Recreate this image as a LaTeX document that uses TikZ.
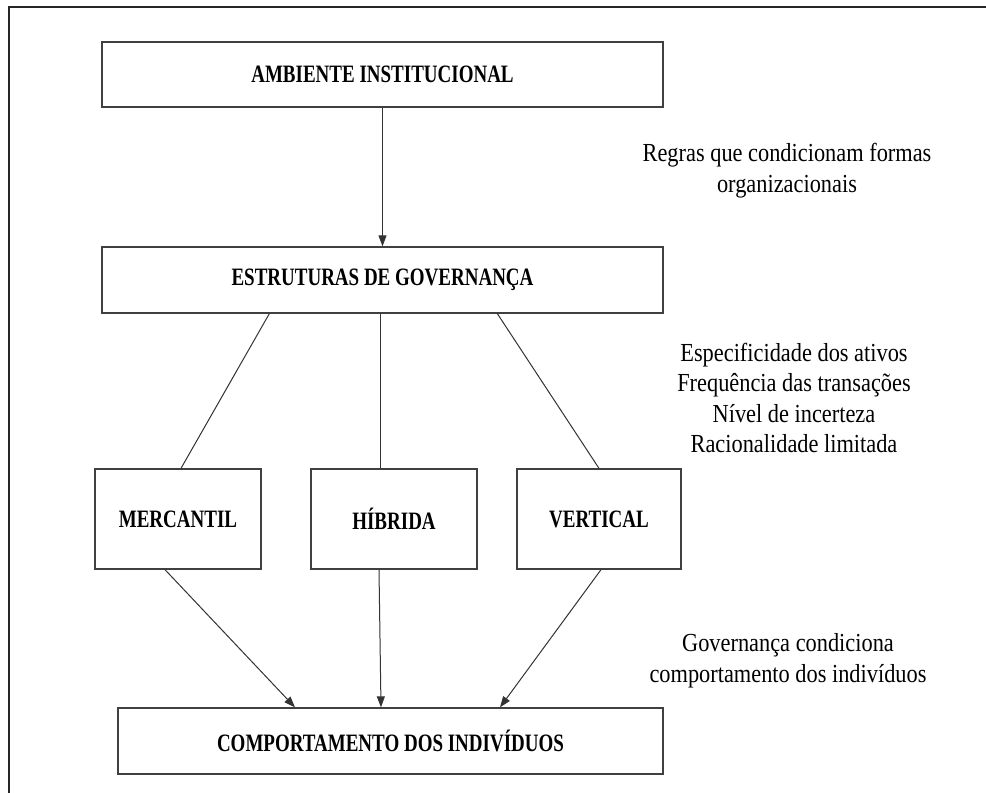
\documentclass[tikz,border=0pt]{standalone}
\usepackage{fontspec}
\usepackage{graphicx}
\setmainfont{Liberation Serif}
\newcommand\cx[2]{\scalebox{#1}[1]{#2}}
\newcommand\bx[1]{\cx{0.76}{#1}}
\newcommand\nt[1]{\cx{0.86}{\begin{tabular}{@{}c@{}}#1\end{tabular}}}
\usetikzlibrary{arrows.meta,calc}
\tikzset{
  box/.style={draw=black!75, line width=1.3pt, rectangle, inner sep=0pt,
    font=\bfseries\fontsize{25}{30}\selectfont, text=black},
  note/.style={inner sep=0pt, text=black,
    font=\fontsize{26}{30.5}\selectfont},
  link/.style={draw=black!80, line width=1pt},
  arr/.style={link, -{Triangle[length=11pt,width=8pt]}}
}
\begin{document}
\begin{tikzpicture}[x=1pt,y=-1pt]
\useasboundingbox (0,0) rectangle (986,793);
\fill[white] (0,0) rectangle (986,793);
% outer frame (partially visible)
\draw[line width=2pt, black!85] (9,793) -- (9,7) -- (986,7);

\node[box, minimum width=561pt, minimum height=65pt] (amb) at (382.5,74.5) {\bx{AMBIENTE INSTITUCIONAL}};
\node[box, minimum width=561pt, minimum height=66pt] (est) at (382.5,280) {\bx{ESTRUTURAS DE GOVERNANÇA}};
\node[box, minimum width=166pt, minimum height=100pt] (merc) at (178,519) {\bx{MERCANTIL}};
\node[box, minimum width=166pt, minimum height=100pt] (hib) at (394,519) {\bx{HÍBRIDA}};
\node[box, minimum width=164pt, minimum height=100pt] (vert) at (599,519) {\bx{VERTICAL}};
\node[box, minimum width=545pt, minimum height=66pt] (comp) at (390.5,741) {\bx{COMPORTAMENTO DOS INDIVÍDUOS}};

\node[note] (n1) at (787,171) {\nt{Regras que condicionam formas\\organizacionais}};
\node[note] (n2) at (794,401) {\nt{Especificidade dos ativos\\Frequência das transações\\Nível de incerteza\\Racionalidade limitada}};
\node[note] (n3) at (788,661) {\nt{Governança condiciona\\comportamento dos indivíduos}};

\draw[arr] (amb.south) -- (est.north);
\draw[link] ([xshift=168pt]est.south west) -- ([xshift=3pt]merc.north);
\draw[link] ([xshift=-2.5pt]est.south) -- ([xshift=-14pt]hib.north);
\draw[link] ([xshift=396pt]est.south west) -- (vert.north);

\draw[arr] ([xshift=-13pt]merc.south) -- ([xshift=-95.5pt]comp.north);
\draw[arr] ([xshift=-15pt]hib.south) -- ([xshift=-9.5pt]comp.north);
\draw[arr] ([xshift=2pt]vert.south) -- ([xshift=109.5pt]comp.north);
\end{tikzpicture}
\end{document}
